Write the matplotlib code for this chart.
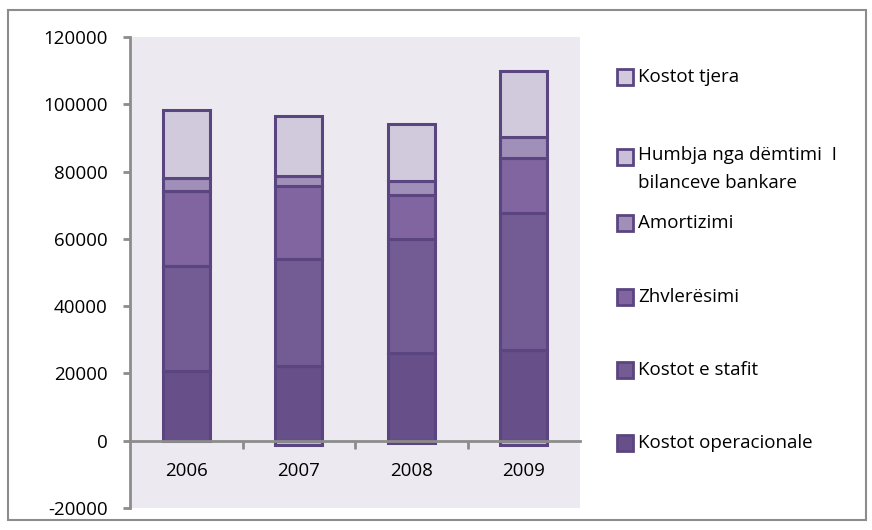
import matplotlib.pyplot as plt
from matplotlib.patches import Rectangle
import numpy as np

plt.rcParams['font.family'] = ['Open Sans', 'DejaVu Sans']
plt.rcParams['axes.unicode_minus'] = False

years = ['2006', '2007', '2008', '2009']
# vlerat per seri (nga poshte lart)
kostot_operacionale = [20800, 22100, 26000, 27000]
kostot_stafit = [31000, 31800, 33900, 40600]
zhvleresimi = [22300, 21700, 13000, 16300]
amortizimi = [3900, 3200, 4400, 6400]
humbja = [0, -1200, -800, -1200]
kostot_tjera = [20400, 17600, 16900, 19600]

series = [
    ('Kostot operacionale', kostot_operacionale, '#67508A'),
    ('Kostot e stafit', kostot_stafit, '#735B94'),
    ('Zhvlerësimi', zhvleresimi, '#8065A0'),
    ('Amortizimi', amortizimi, '#A08FB8'),
    ('Humbja nga dëmtimi  I\nbilanceve bankare', humbja, '#C8C0D8'),
    ('Kostot tjera', kostot_tjera, '#D0CADC'),
]
edge = '#5B4580'
fs = 13.5

fig = plt.figure(figsize=(8.72, 5.30), dpi=100)
W, H = 872, 530
ax = fig.add_axes([130 / W, 1 - 508 / H, 450 / W, 471 / H])
ax.set_facecolor('#ECEAF0')

x = np.arange(len(years))
pos_base = np.zeros(len(years))
neg_base = np.zeros(len(years))
for name, vals, col in series:
    vals = np.array(vals, dtype=float)
    base = np.where(vals >= 0, pos_base, neg_base)
    ax.bar(x, vals, width=0.42, bottom=base, color=col, edgecolor=edge,
           linewidth=2.2, zorder=2)
    pos_base += np.where(vals >= 0, vals, 0)
    neg_base += np.where(vals < 0, vals, 0)

ax.set_xlim(-0.5, 3.5)
ax.set_ylim(-20000, 120000)
ax.set_yticks(np.arange(-20000, 120001, 20000))
ax.tick_params(axis='y', length=5, width=2, color='#8C8C8C', pad=11,
               labelsize=fs)

for s in ['top', 'right']:
    ax.spines[s].set_visible(False)
ax.spines['left'].set_color('#8C8C8C')
ax.spines['left'].set_linewidth(2)
ax.spines['bottom'].set_position(('data', 0))
ax.spines['bottom'].set_color('#8C8C8C')
ax.spines['bottom'].set_linewidth(2)
ax.spines['bottom'].set_zorder(3)

ax.set_xticks(x)
ax.set_xticklabels(years)
ax.tick_params(axis='x', length=0, pad=15, labelsize=fs)
ax.set_xticks([0.5, 1.5, 2.5], minor=True)
ax.tick_params(axis='x', which='minor', length=6, width=2, color='#8C8C8C',
               direction='out')

# legjenda
leg_y = [443, 370, 297, 223, 157, 77]
for (name, vals, col), yy in zip(series, leg_y):
    fig.patches.append(Rectangle((617 / W, 1 - (yy + 8) / H), 16 / W, 16 / H,
                                 transform=fig.transFigure, facecolor=col,
                                 edgecolor=edge, linewidth=2))
    if '\n' in name:
        fig.text(638 / W, 1 - (yy - 11) / H, name, fontsize=fs, va='top',
                 ha='left', linespacing=1.75)
    else:
        fig.text(638 / W, 1 - yy / H, name, fontsize=fs, va='center', ha='left')

# korniza
fig.patches.append(Rectangle((8 / W, 1 - 520 / H), 858 / W, 510 / H,
                             transform=fig.transFigure, facecolor='none',
                             edgecolor='#8C8C8C', linewidth=1.5))

plt.savefig('out.png', dpi=100)
plt.close()
